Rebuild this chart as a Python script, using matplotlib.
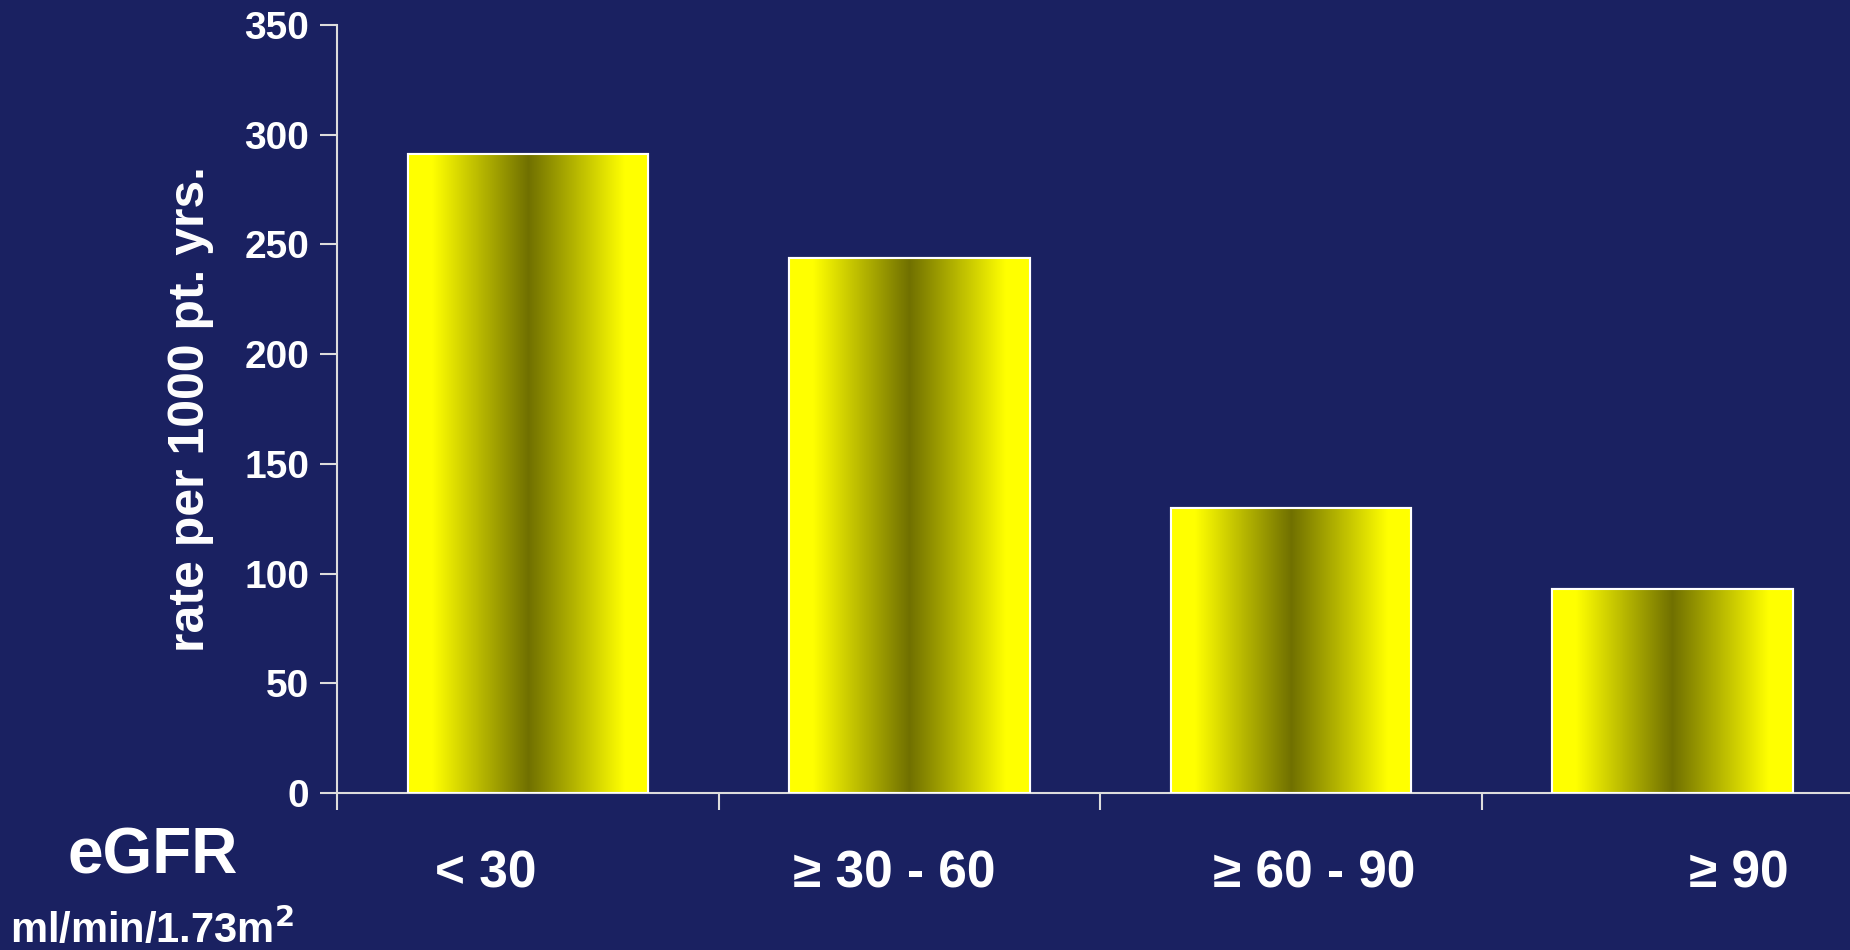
import numpy as np
import matplotlib.pyplot as plt
from matplotlib.colors import LinearSegmentedColormap

# eGFR groups and event rates
groups = ['< 30', '\u2265 30 - 60', '\u2265 60 - 90', '\u2265 90']
rates = [291, 244, 130, 93]
yticks = [0, 50, 100, 150, 200, 250, 300, 350]

bg = '#1a2161'
plt.rcParams['font.family'] = ['Liberation Sans', 'DejaVu Sans']
plt.rcParams['font.weight'] = 'bold'

fig = plt.figure(figsize=[18.5, 9.5], dpi=100, facecolor=bg)
ax = fig.add_axes([.1822, .1653, .8249, .8084], facecolor=bg)

x = np.arange(len(groups)) + 0.5
bars = ax.bar(x, rates, 0.63, color='yellow', edgecolor='white', linewidth=1.5, zorder=2)

# yellow -> olive -> yellow shading across each bar
shade = LinearSegmentedColormap.from_list('shade', [(0, '#ffff00'), (0.1, '#ffff00'),
                                                   (0.5, '#707000'), (0.9, '#ffff00'),
                                                   (1, '#ffff00')])
grad = np.linspace(0, 1, 256).reshape(1, -1)
for b in bars:
    x0, w, h = b.get_x(), b.get_width(), b.get_height()
    im = ax.imshow(grad, cmap=shade, aspect='auto', extent=[x0, x0 + w, 0, h], zorder=2.5)
    im.set_clip_path(b)
    ax.add_patch(plt.Rectangle((x0, 0), w, h, fill=False, edgecolor='white', linewidth=1.5, zorder=3))

ax.set_xlim(0, 4)
ax.set_ylim(0, 350)
ax.set_yticks(yticks)
ax.set_yticklabels([str(v) for v in yticks], fontsize=28, fontweight='bold')
ax.set_xticks(np.arange(0, 4, 1))
ax.set_xticklabels([])
ax.tick_params(axis='both', colors='#dddddd', labelcolor='white', length=12, width=1.5, direction='out')
ax.tick_params(axis='y', pad=8)
for side in ['top', 'right']:
    ax.spines[side].set_visible(False)
for side in ['left', 'bottom']:
    ax.spines[side].set_color('#dddddd')
    ax.spines[side].set_linewidth(1.5)

ax.set_ylabel('rate per 1000 pt. yrs.', fontsize=36, color='white', fontweight='bold', labelpad=22)

# category labels, nudged the way the slide had them
nudge = [-0.11, -0.04, 0.06, 0.175]
for xi, g, d in zip(x, groups, nudge):
    ax.text(xi + d, -37, g, fontsize=37, color='white', fontweight='bold',
            ha='center', va='center', clip_on=False)

fig.text(153 / 1850, 1 - 857 / 950, 'eGFR', fontsize=46, color='white', fontweight='bold',
         ha='center', va='center')
fig.text(10 / 1850, 1 - 930 / 950, 'ml/min/1.73m$^\\mathbf{2}$', fontsize=30, color='white',
         fontweight='bold', ha='left', va='center')

fig.savefig('out.png', dpi=100, facecolor=bg)
